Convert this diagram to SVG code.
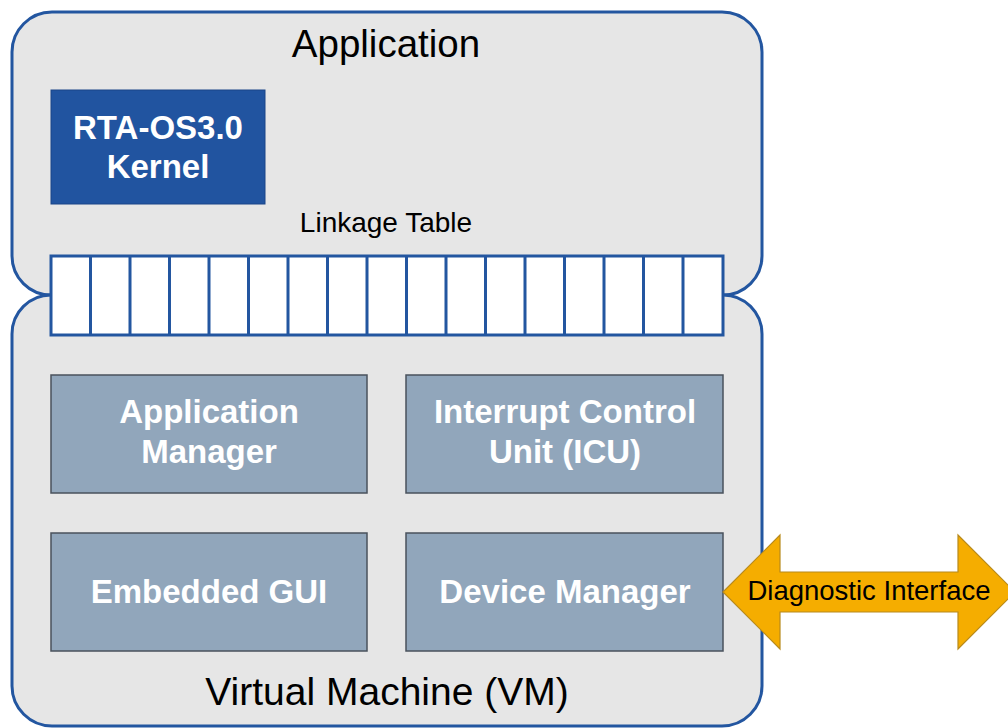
<svg xmlns="http://www.w3.org/2000/svg" width="1008" height="728" viewBox="0 0 1008 728">
  <style>
    .region { fill: #e6e6e6; stroke: #2356a0; stroke-width: 3; }
    .cell { fill: #ffffff; stroke: #2356a0; stroke-width: 3; }
    .module { fill: #91a6bb; stroke: #4a525c; stroke-width: 1.5; }
    .kernel { fill: #2154a0; stroke: #1a4588; stroke-width: 1; }
    .label { font-family: "Liberation Sans", Arial, sans-serif; fill: #000; text-anchor: middle; }
    .modtext { font-family: "Liberation Sans", Arial, sans-serif; font-weight: bold; fill: #ffffff; text-anchor: middle; font-size: 33px; }
    .arrow { fill: #f5ad00; stroke: #b88a1c; stroke-width: 1.2; }
  </style>

  <!-- Application layer (top) -->
  <g id="application">
    <path class="region" d="M 12,256 V 52 A 40 40 0 0 1 52,12 H 722 A 40 40 0 0 1 762,52 V 256 A 39 39 0 0 1 723,295 H 51 A 39 39 0 0 1 12,256 Z"/>
    <text class="label" x="386" y="57" font-size="38.5">Application</text>
  </g>

  <!-- Virtual machine layer (bottom) -->
  <g id="virtual-machine">
    <path class="region" d="M 51,295 H 723 A 39 39 0 0 1 762,334 V 686 A 40 40 0 0 1 722,726 H 52 A 40 40 0 0 1 12,686 V 334 A 39 39 0 0 1 51,295 Z"/>
    <text class="label" x="387" y="705" font-size="39">Virtual Machine (VM)</text>
  </g>

  <!-- RTA-OS kernel -->
  <g id="kernel">
    <rect class="kernel" x="51" y="90" width="214" height="114"/>
    <text class="modtext" x="158" y="139">RTA-OS3.0</text>
    <text class="modtext" x="158" y="178">Kernel</text>
  </g>

  <!-- Linkage table: 17 slots -->
  <g id="linkage-table">
    <text class="label" x="386" y="232" font-size="28">Linkage Table</text>
    <rect class="cell" x="51" y="256" width="672" height="79"/>
    <path fill="none" stroke="#2356a0" stroke-width="3" d="M 90.5,256 V 335 M 130,256 V 335 M 169.5,256 V 335 M 209,256 V 335 M 248.5,256 V 335 M 288,256 V 335 M 327.5,256 V 335 M 367,256 V 335 M 406.5,256 V 335 M 446,256 V 335 M 485.5,256 V 335 M 525,256 V 335 M 564.5,256 V 335 M 604,256 V 335 M 643.5,256 V 335 M 683,256 V 335"/>
  </g>

  <!-- VM modules -->
  <g id="application-manager">
    <rect class="module" x="51" y="375" width="316" height="118"/>
    <text class="modtext" x="209" y="423">Application</text>
    <text class="modtext" x="209" y="463">Manager</text>
  </g>
  <g id="interrupt-control-unit">
    <rect class="module" x="406" y="375" width="317" height="118"/>
    <text class="modtext" x="565" y="423">Interrupt Control</text>
    <text class="modtext" x="565" y="463">Unit (ICU)</text>
  </g>
  <g id="embedded-gui">
    <rect class="module" x="51" y="533" width="316" height="118"/>
    <text class="modtext" x="209" y="603">Embedded GUI</text>
  </g>
  <g id="device-manager">
    <rect class="module" x="406" y="533" width="317" height="118"/>
    <text class="modtext" x="565" y="603">Device Manager</text>
  </g>

  <!-- Diagnostic interface (double-headed block arrow) -->
  <g id="connectors">
    <g id="diagnostic-interface">
      <path class="arrow" d="M 723,592 L 780,535 V 572 H 958 V 535 L 1015,592 L 958,649 V 612 H 780 V 649 Z"/>
      <text class="label" x="869" y="600" font-size="27.5">Diagnostic Interface</text>
    </g>
  </g>
</svg>
